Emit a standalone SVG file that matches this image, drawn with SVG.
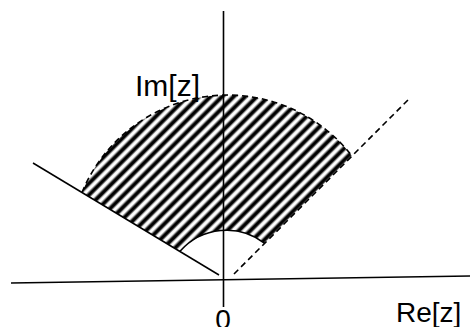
<svg xmlns="http://www.w3.org/2000/svg" width="470" height="327" viewBox="0 0 470 327">
<style>
.ax{stroke:#000;stroke-width:1.6;fill:none}
.sl{stroke:#000;stroke-width:1.5;fill:none}
.ds{stroke:#000;stroke-width:1.6;fill:none;stroke-dasharray:6 4}
.lbl{font-family:"Liberation Sans",Arial,sans-serif;font-size:28px;fill:#000}
</style>
<defs>
<linearGradient id="g" x1="0" y1="0" x2="1" y2="0">
<stop offset="0" stop-color="#fff"/>
<stop offset="0.1" stop-color="#fff"/>
<stop offset="0.35" stop-color="#000"/>
<stop offset="0.6" stop-color="#000"/>
<stop offset="0.85" stop-color="#fff"/>
<stop offset="1" stop-color="#fff"/>
</linearGradient>
<pattern id="hatch" patternUnits="userSpaceOnUse" width="8.2" height="10" patternTransform="rotate(45)">
<rect width="8.2" height="10" fill="url(#g)"/>
</pattern>
</defs>
<rect width="470" height="327" fill="#fff"/>
<g id="region">
<path d="M82,192.4 A157.5,157.5 0 0 1 352,156 L264.7,243.3 A62,62 0 0 0 180,251.2 Z" fill="url(#hatch)" stroke="none"/>
<path class="ds" d="M82,192.4 A157.5,157.5 0 0 1 352,156"/>
<path class="sl" d="M264.7,243.3 A62,62 0 0 0 180,251.2"/>
</g>
<g id="connectors">
<line class="ax" x1="223.5" y1="11" x2="223.5" y2="307"/>
<line class="ax" x1="11" y1="283" x2="470" y2="276"/>
<line class="sl" x1="33" y1="163" x2="219" y2="275"/>
<line class="ds" x1="234" y1="274" x2="410" y2="98"/>
</g>
<g id="labels">
<text class="lbl" x="135" y="96" style="font-size:30px">Im[z]</text>
<text class="lbl" x="396" y="322">Re[z]</text>
<text class="lbl" x="223" y="329" text-anchor="middle">0</text>
</g>
</svg>
